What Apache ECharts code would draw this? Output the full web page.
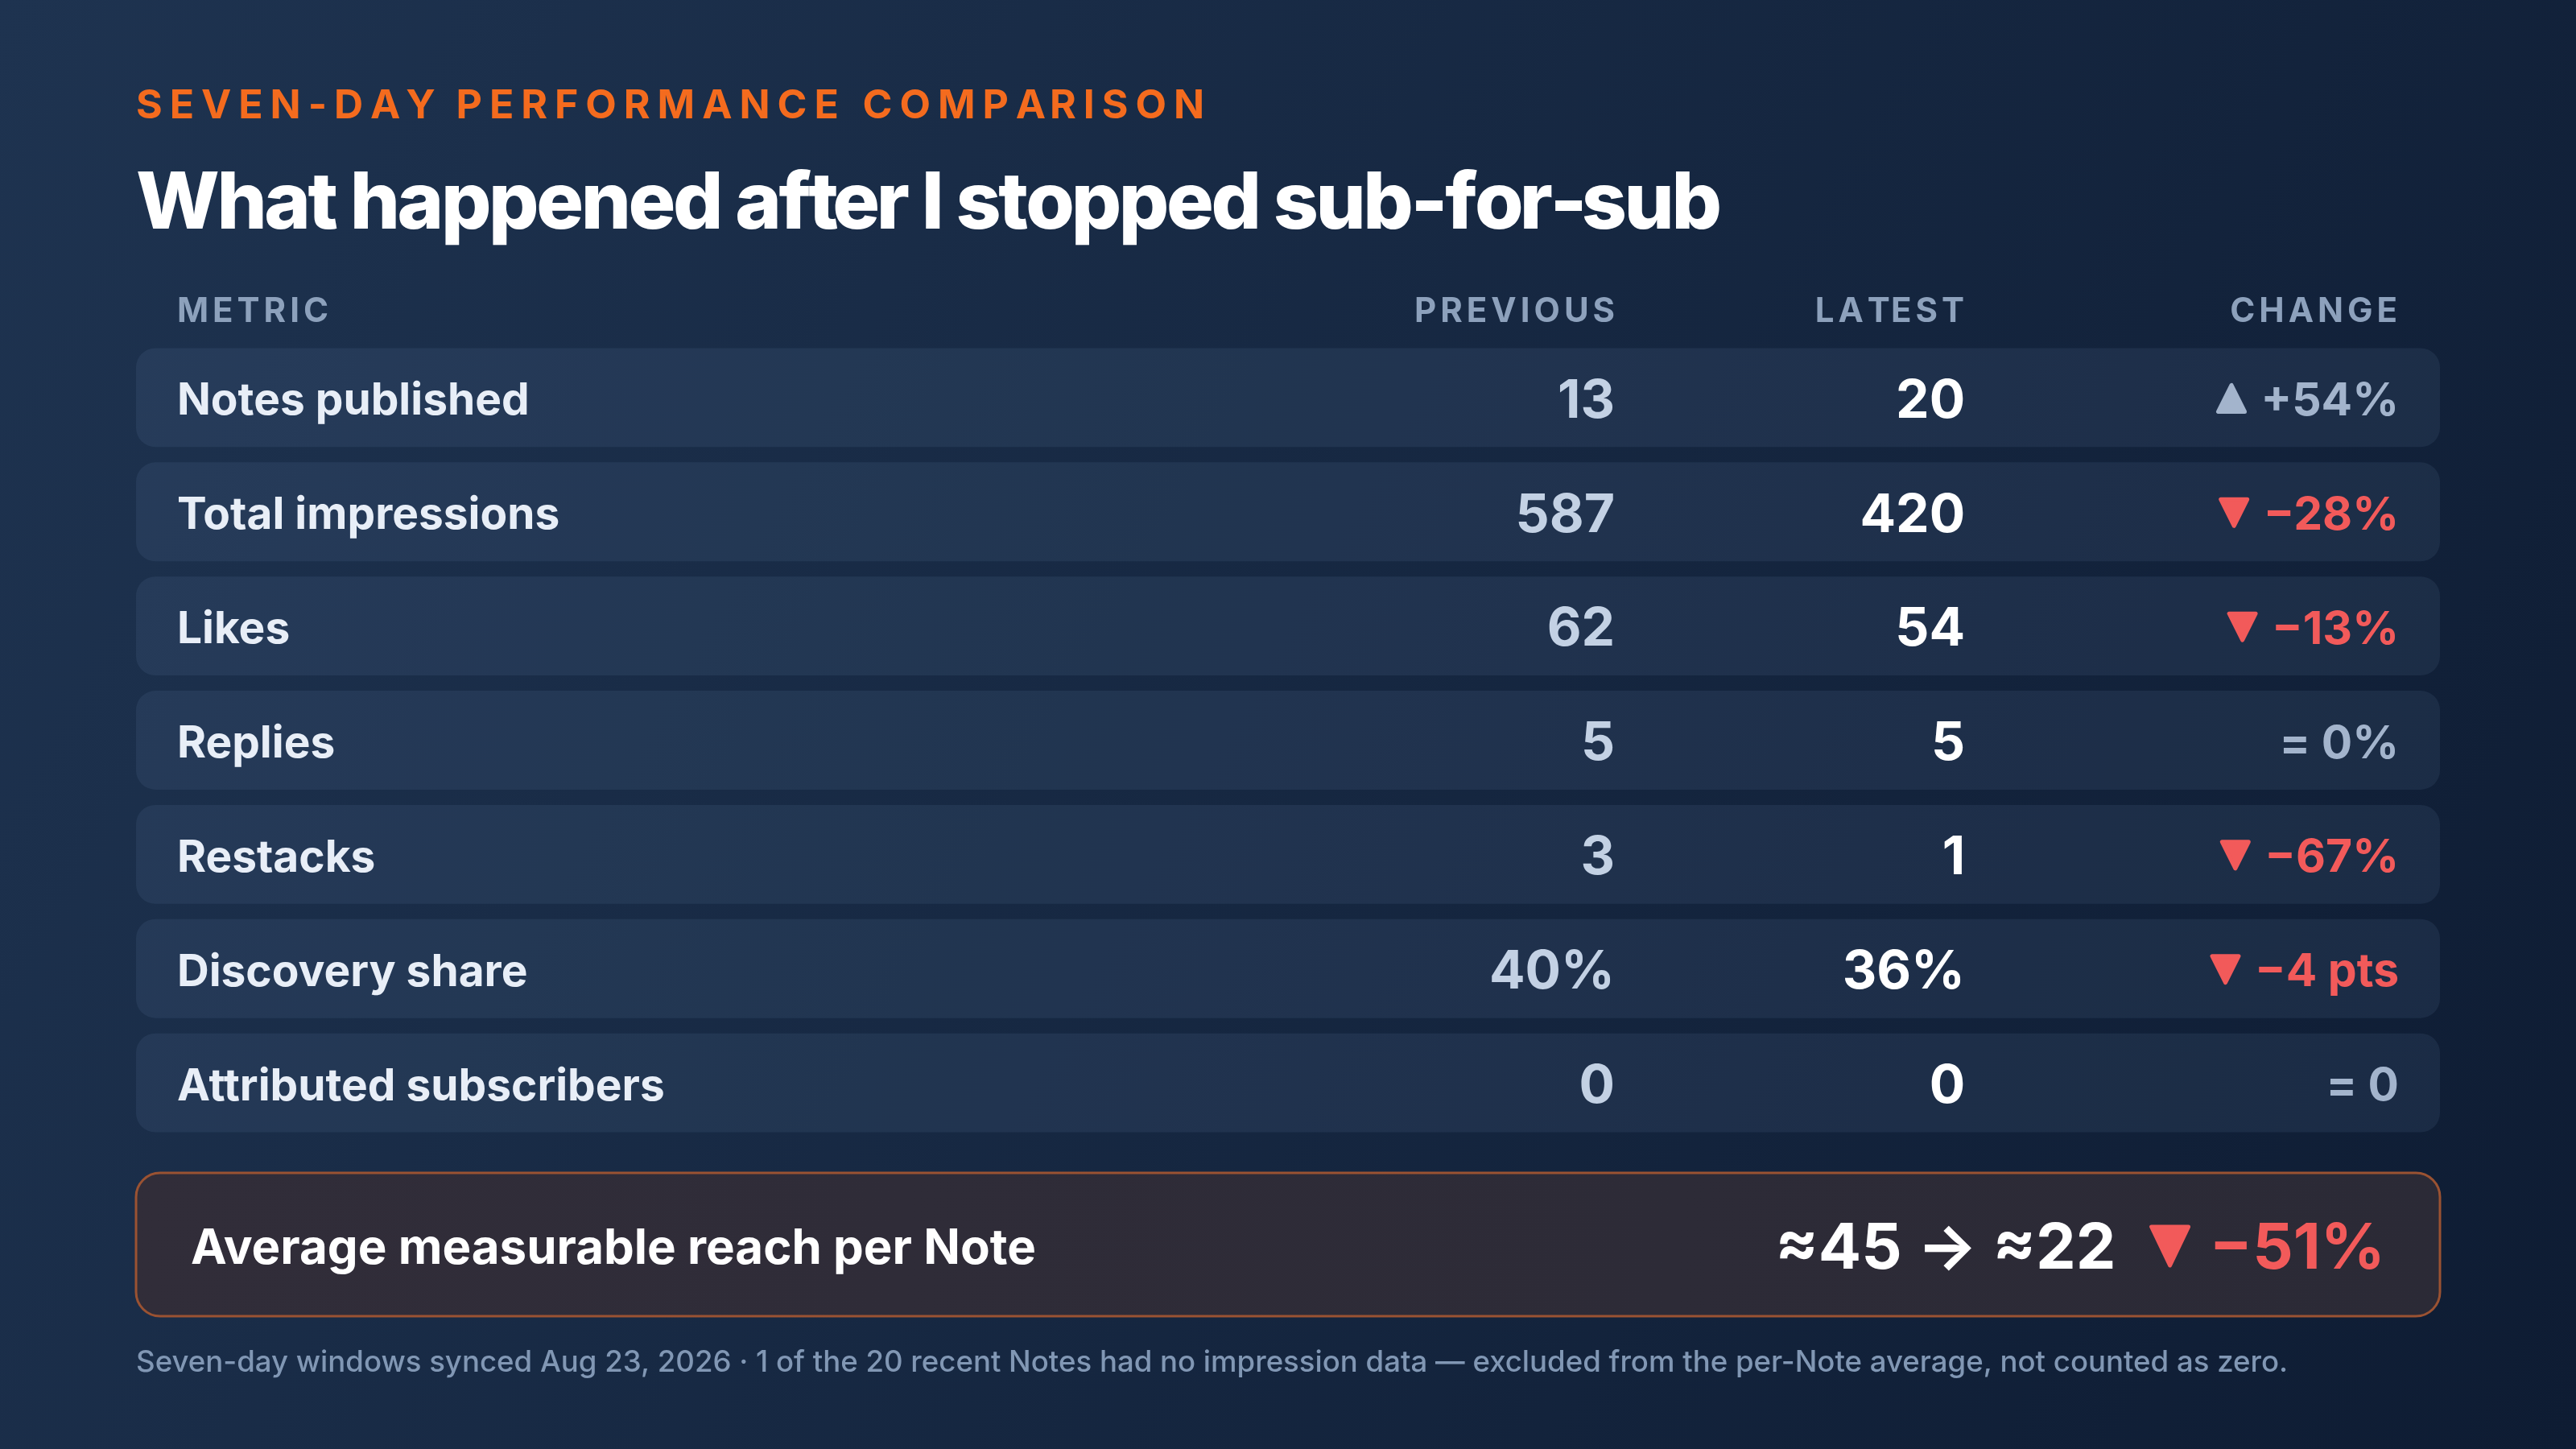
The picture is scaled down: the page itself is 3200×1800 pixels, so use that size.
<!DOCTYPE html>
<html>
<head>
<meta charset="utf-8">
<script src="https://cdn.jsdelivr.net/npm/echarts@6/dist/echarts.min.js"></script>
<style>
html, body { margin: 0; padding: 0; background: #152540; }
#main { width: 3200px; height: 1800px; }
</style>
</head>
<body>
<div id="main"></div>
<script>
// 数据
var metrics = ['Notes published', 'Total impressions', 'Likes', 'Replies', 'Restacks', 'Discovery share', 'Attributed subscribers'];
var previousValues = [13, 587, 62, 5, 3, 40, 0];
var latestValues = [20, 420, 54, 5, 1, 36, 0];
var valueUnits = ['', '', '', '', '', '%', ''];
var changeValues = [54, -28, -13, 0, -67, -4, 0];
var changeUnits = ['%', '%', '%', '%', '%', ' pts', ''];
var columnLabels = ['METRIC', 'PREVIOUS', 'LATEST', 'CHANGE'];
var reachLabel = 'Average measurable reach per Note';
var reachPrevious = 45;
var reachLatest = 22;
var reachChange = -51;

// 颜色
var RED = '#f25a5a';
var MUTED = '#a3b4cc';
var FONT = 'Inter, "Noto Sans", sans-serif';
var DY = 5; // 文字垂直微调

// 列位置 (占表格宽度的比例)
var colFrac = [0.0178, 0.6419, 0.7939, 0.9822];

var ctx = document.createElement('canvas').getContext('2d');
function measure(t, font) {
    ctx.font = font;
    return ctx.measureText(t).width;
}

// 带字距的文字
function spaced(str, x, y, font, fill, spacing, align) {
    var total = measure(str, font) + spacing * (str.length - 1);
    var x0 = align === 'right' ? x - total : x;
    var children = [];
    for (var k = 0; k < str.length; k++) {
        if (str[k] === ' ') continue;
        children.push({
            type: 'text',
            x: x0 + measure(str.slice(0, k), font) + spacing * k,
            y: y,
            style: { text: str[k], font: font, fill: fill, verticalAlign: 'middle', align: 'left' }
        });
    }
    return { type: 'group', silent: true, children: children };
}
function fitSpacing(str, font, target) {
    return (target - measure(str, font)) / (str.length - 1);
}

function triangle(xr, cy, w, h, dir, color) {
    var pts = dir === 'up'
        ? [[xr - w, cy + h / 2], [xr, cy + h / 2], [xr - w / 2, cy - h / 2]]
        : [[xr - w, cy - h / 2], [xr, cy - h / 2], [xr - w / 2, cy + h / 2]];
    return {
        type: 'polygon',
        shape: { points: pts },
        style: { fill: color, stroke: color, lineWidth: 5, lineJoin: 'round' }
    };
}

function fmtValue(v, unit) { return v + unit; }
function changeParts(v, unit) {
    if (v > 0) return { dir: 'up', text: '+' + v + unit, color: MUTED };
    if (v < 0) return { dir: 'down', text: '\u2212' + Math.abs(v) + unit, color: RED };
    return { dir: 'flat', text: '= 0' + unit, color: MUTED };
}

var labelFont = '700 55px ' + FONT;
var valueFont = '700 66px ' + FONT;
var changeFont = '700 57px ' + FONT;

function renderRow(params, api) {
    var i = api.value(1);
    var a = api.coord([0, i]);
    var b = api.coord([1, i]);
    var h = api.size([0, 1])[1] - 19;
    var cy = a[1];
    var ty = cy + DY;
    var xs = colFrac.map(function(f) { return api.coord([f, i])[0]; });
    var ch = changeParts(changeValues[i], changeUnits[i]);
    var children = [{
        type: 'rect',
        shape: { x: a[0], y: cy - h / 2, width: b[0] - a[0], height: h, r: 24 },
        style: { fill: 'rgba(148,178,220,0.09)' }
    }, {
        type: 'text', x: xs[0], y: ty,
        style: { text: metrics[i], font: labelFont, fill: '#e8eef7', align: 'left', verticalAlign: 'middle' }
    }, {
        type: 'text', x: xs[1], y: ty,
        style: { text: fmtValue(previousValues[i], valueUnits[i]), font: valueFont, fill: '#c3d1e4', align: 'right', verticalAlign: 'middle' }
    }, {
        type: 'text', x: xs[2], y: ty,
        style: { text: fmtValue(latestValues[i], valueUnits[i]), font: valueFont, fill: '#ffffff', align: 'right', verticalAlign: 'middle' }
    }, {
        type: 'text', x: xs[3], y: ty,
        style: { text: ch.text, font: changeFont, fill: ch.color, align: 'right', verticalAlign: 'middle' }
    }];
    if (ch.dir !== 'flat') {
        var tw = measure(ch.text, changeFont);
        children.push(triangle(xs[3] - tw - 20, cy + 1, 33, 33, ch.dir, ch.color));
    }
    return { type: 'group', children: children };
}

var myChart = echarts.init(document.getElementById('main'));

var gridLeft = 169, gridRight = 169, gridWidth = 3200 - gridLeft - gridRight;
function colX(k) { return gridLeft + colFrac[k] * gridWidth; }

// 标题和表头
var eyebrow = 'SEVEN-DAY PERFORMANCE COMPARISON';
var eyebrowFont = '700 50px ' + FONT;
var titleText = 'What happened after I stopped sub-for-sub';
var titleFont = '800 98px ' + FONT;
var headerFont = '700 42px ' + FONT;

var graphics = [
    spaced(eyebrow, 169, 129 + 3, eyebrowFont, '#f46b1e', fitSpacing(eyebrow, eyebrowFont, 1327), 'left'),
    spaced(titleText, 169, 249 + 6, titleFont, '#ffffff', fitSpacing(titleText, titleFont, 1970), 'left'),
    spaced(columnLabels[0], colX(0), 384 + 3, headerFont, '#8da1bc', 5, 'left'),
    spaced(columnLabels[1], colX(1), 384 + 3, headerFont, '#8da1bc', 5, 'right'),
    spaced(columnLabels[2], colX(2) - 1, 384 + 3, headerFont, '#8da1bc', 5, 'right'),
    spaced(columnLabels[3], colX(3) - 2, 384 + 3, headerFont, '#8da1bc', 5, 'right')
];

// 汇总框
var boxTop = 1457, boxH = 178, boxCy = boxTop + boxH / 2;
var bigFont = '700 79px ' + FONT;
var reachText1 = '\u2248' + reachPrevious + ' \u2192 \u2248' + reachLatest;
var reachText2 = '\u2212' + Math.abs(reachChange) + '%';
var r2w = measure(reachText2, bigFont);
var triR = 2963 - r2w - 26;
graphics.push({
    type: 'rect',
    silent: true,
    shape: { x: 169, y: boxTop, width: 2862, height: boxH, r: 30 },
    style: {
        fill: new echarts.graphic.LinearGradient(0, 0, 1, 1, [
            { offset: 0, color: '#312d39' },
            { offset: 1, color: '#2b2a36' }
        ]),
        stroke: '#9a5232',
        lineWidth: 3
    }
}, {
    type: 'text', silent: true, x: 237, y: boxCy + DY + 1,
    style: { text: reachLabel, font: '700 60px ' + FONT, fill: '#ffffff', align: 'left', verticalAlign: 'middle' }
}, {
    type: 'text', silent: true, x: 2963, y: boxCy + DY + 1,
    style: { text: reachText2, font: bigFont, fill: RED, align: 'right', verticalAlign: 'middle' }
}, {
    type: 'group', silent: true,
    children: [triangle(triR, boxCy + 2, 46, 48, 'down', RED)]
}, {
    type: 'text', silent: true, x: triR - 50 - 40, y: boxCy + DY + 1,
    style: { text: reachText1, font: bigFont, fill: '#ffffff', align: 'right', verticalAlign: 'middle' }
}, {
    type: 'text', silent: true, x: 169, y: 1690 + 3,
    style: {
        text: 'Seven-day windows synced Aug 23, 2026 \u00b7 1 of the 20 recent Notes had no impression data \u2014 excluded from the per-Note average, not counted as zero.',
        font: '500 36.6px ' + FONT, fill: '#8197b4', align: 'left', verticalAlign: 'middle'
    }
});

var option = {
    backgroundColor: new echarts.graphic.LinearGradient(0, 0, 1, 1, [
        { offset: 0, color: '#1e3350' },
        { offset: 1, color: '#0e1c33' }
    ]),
    animation: false,
    grid: { left: gridLeft, right: gridRight, top: 423, height: 993 },
    xAxis: { type: 'value', min: 0, max: 1, show: false },
    yAxis: { type: 'category', data: metrics, inverse: true, show: false },
    series: [{
        type: 'custom',
        renderItem: renderRow,
        encode: { x: 0, y: 1 },
        data: metrics.map(function(m, i) { return [0, i]; }),
        silent: true
    }],
    graphic: graphics
};

myChart.setOption(option);

window.addEventListener('resize', function() {
    myChart.resize();
});
</script>
</body>
</html>
